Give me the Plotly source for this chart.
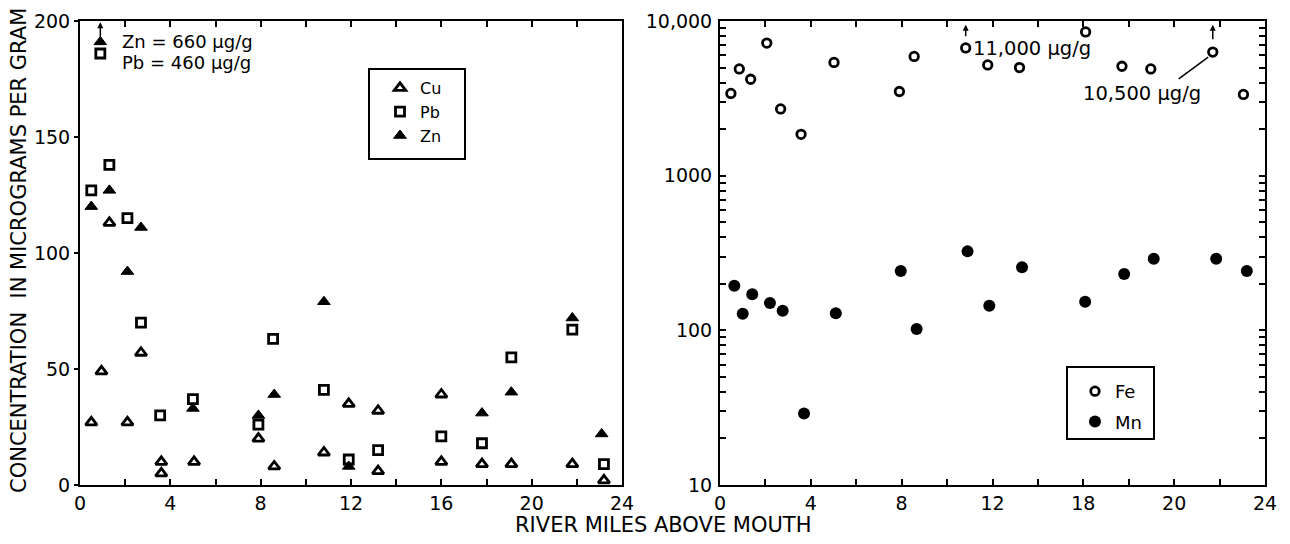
import plotly.graph_objects as go

# ---------------- Left panel: Cu, Pb, Zn (micrograms per gram) ----------------
cu_miles = [0.5, 0.95, 1.3, 2.1, 2.7, 3.6, 3.6, 5.05, 7.9, 8.6, 10.8, 11.9, 13.2, 13.2, 16.0, 16.0, 17.8, 19.1, 21.8, 23.2]
cu_conc = [27, 49, 113, 27, 57, 10, 5, 10, 20, 8, 14, 35, 32, 6, 39, 10, 9, 9, 9, 2]

# the points at 0.9 mile are off-scale (Zn = 660, Pb = 460); plotted at the top with an arrow
pb_miles = [0.5, 0.9, 1.3, 2.1, 2.7, 3.55, 5.0, 7.9, 8.55, 10.8, 11.9, 13.2, 16.0, 17.8, 19.1, 21.8, 23.2]
pb_conc = [127, 186, 138, 115, 70, 30, 37, 26, 63, 41, 11, 15, 21, 18, 55, 67, 9]

zn_miles = [0.5, 0.9, 1.3, 2.1, 2.7, 5.0, 7.9, 8.6, 10.8, 11.9, 17.8, 19.1, 21.8, 23.1]
zn_conc = [120, 191, 127, 92, 111, 33, 30, 39, 79, 8, 31, 40, 72, 22]

# ---------------- Right panel: Fe, Mn (log scale) ----------------
# Fe at 10.8 and 21.7 miles are off-scale (11,000 and 10,500), plotted below the top with arrows
fe_miles = [0.48, 0.85, 1.35, 2.06, 2.67, 3.57, 5.02, 7.9, 8.55, 10.82, 11.79, 13.19, 16.1, 17.7, 18.97, 21.7, 23.05]
fe_conc = [3400, 4900, 4200, 7200, 2700, 1850, 5400, 3500, 5900, 6700, 5200, 5000, 8500, 5100, 4900, 6300, 3350]

mn_miles = [0.63, 1.0, 1.42, 2.2, 2.76, 3.7, 5.1, 7.96, 8.66, 10.9, 11.86, 13.3, 16.08, 17.8, 19.1, 21.85, 23.2]
mn_conc = [194, 128, 171, 150, 134, 29, 129, 242, 102, 324, 144, 256, 153, 231, 290, 290, 242]

# ---------------- Tick labels ----------------
x_tickvals = [0, 2, 4, 6, 8, 10, 12, 14, 16, 18, 20, 22, 24]
left_x_ticktext = ["0", "", "4", "", "8", "", "12", "", "16", "", "20", "", "24"]
right_x_ticktext = ["0", "", "4", "", "8", "", "12", "", "18", "", "20", "", "24"]
left_y_tickvals = [0, 50, 100, 150, 200]
left_y_ticktext = ["0", "50", "100", "150", "200"]
right_y_tickvals = [10, 20, 30, 40, 50, 60, 70, 80, 90,
                    100, 200, 300, 400, 500, 600, 700, 800, 900,
                    1000, 2000, 3000, 4000, 5000, 6000, 7000, 8000, 9000, 10000]
right_y_ticktext = ["10", "", "", "", "", "", "", "", "",
                    "100", "", "", "", "", "", "", "", "",
                    "1000", "", "", "", "", "", "", "", "", "10,000"]

FONT = "DejaVu Sans"
W, H = 1290, 544


def px_x(p):
    return p / W


def px_y(p):
    return 1 - p / H


fig = go.Figure()

fig.add_trace(go.Scatter(
    x=cu_miles, y=cu_conc, mode="markers", name="Cu", xaxis="x", yaxis="y", legend="legend",
    marker=dict(symbol="triangle-up-open", size=10, color="black", line=dict(width=2.8, color="black"))))
fig.add_trace(go.Scatter(
    x=pb_miles, y=pb_conc, mode="markers", name="Pb", xaxis="x", yaxis="y", legend="legend",
    marker=dict(symbol="square-open", size=9, color="black", line=dict(width=2.8, color="black"))))
fig.add_trace(go.Scatter(
    x=zn_miles, y=zn_conc, mode="markers", name="Zn", xaxis="x", yaxis="y", legend="legend",
    marker=dict(symbol="triangle-up", size=11, color="black", line=dict(width=1, color="black"))))

fig.add_trace(go.Scatter(
    x=fe_miles, y=fe_conc, mode="markers", name="Fe", xaxis="x2", yaxis="y2", legend="legend2",
    legendgroup="fe",
    marker=dict(symbol="circle-open", size=8.5, color="black", line=dict(width=2.8, color="black"))))
fig.add_trace(go.Scatter(
    x=mn_miles, y=mn_conc, mode="markers", name="Mn", xaxis="x2", yaxis="y2", legend="legend2",
    legendgroup="mn",
    marker=dict(symbol="circle", size=12, color="black")))

ydom = [px_y(485), px_y(21)]
axis_common = dict(showline=True, linewidth=2, linecolor="black", showgrid=False, zeroline=False,
                   automargin=False,
                   tickcolor="black", tickwidth=2, tickfont=dict(family=FONT, size=19, color="black"))

fig.update_layout(
    width=W, height=H,
    margin=dict(l=0, r=0, t=0, b=0, autoexpand=False),
    paper_bgcolor="white", plot_bgcolor="white",
    font=dict(family=FONT, color="black"),
    xaxis=dict(domain=[px_x(80), px_x(622)], range=[0, 24], anchor="y",
               tickmode="array", tickvals=x_tickvals, ticktext=left_x_ticktext,
               ticks="inside", ticklen=6, mirror="allticks", ticklabelstandoff=0, **axis_common),
    yaxis=dict(domain=ydom, range=[0, 200], anchor="x",
               tickmode="array", tickvals=left_y_tickvals, ticktext=left_y_ticktext,
               ticks="outside", ticklen=4, mirror=True, ticklabelstandoff=0, **axis_common),
    yaxis3=dict(overlaying="y", side="right", anchor="x", range=[0, 200], automargin=False,
                tickmode="array", tickvals=[50, 100, 150], ticks="inside", ticklen=6,
                tickwidth=2, tickcolor="black", showticklabels=False, showline=False,
                showgrid=False, zeroline=False),
    xaxis2=dict(domain=[px_x(720), px_x(1265)], range=[0, 24], anchor="y2",
                tickmode="array", tickvals=x_tickvals, ticktext=right_x_ticktext,
                ticks="inside", ticklen=6, mirror="allticks", ticklabelstandoff=0, **axis_common),
    yaxis2=dict(domain=ydom, type="log", range=[1, 4], anchor="x2",
                tickmode="array", tickvals=right_y_tickvals, ticktext=right_y_ticktext,
                ticks="inside", ticklen=6, mirror="allticks", ticklabelstandoff=2, **axis_common),
    legend=dict(x=px_x(380), y=px_y(71), xanchor="left", yanchor="top",
                bgcolor="rgba(0,0,0,0)", borderwidth=0,
                font=dict(family=FONT, size=16, color="black"), itemwidth=30),
    legend2=dict(x=px_x(1075), y=px_y(373), xanchor="left", yanchor="top",
                 bgcolor="rgba(0,0,0,0)", borderwidth=0, tracegroupgap=4,
                 font=dict(family=FONT, size=18, color="black"), itemwidth=30),
    showlegend=True,
    shapes=[
        dict(type="rect", xref="paper", yref="paper", x0=px_x(369), x1=px_x(465),
             y0=px_y(159), y1=px_y(69), line=dict(color="black", width=2)),
        dict(type="rect", xref="paper", yref="paper", x0=px_x(1067), x1=px_x(1154),
             y0=px_y(439), y1=px_y(367), line=dict(color="black", width=2)),
    ],
)

ann_font = dict(family=FONT, size=18, color="black")
ann_font_r = dict(family=FONT, size=19.5, color="black")
annotations = [
    # off-scale arrows
    dict(x=0.9, y=199.5, xref="x", yref="y", ax=0, ay=16, text="", showarrow=True,
         arrowhead=2, arrowsize=0.8, arrowwidth=1.5, arrowcolor="black"),
    dict(x=1.75, y=191, xref="x", yref="y", text="Zn = 660 \u03bcg/g", showarrow=False,
         xanchor="left", yanchor="middle", font=ann_font),
    dict(x=1.75, y=182.3, xref="x", yref="y", text="Pb = 460 \u03bcg/g", showarrow=False,
         xanchor="left", yanchor="middle", font=ann_font),
    dict(x=10.82, y=3.975, xref="x2", yref="y2", ax=0, ay=13, text="", showarrow=True,
         arrowhead=2, arrowsize=0.8, arrowwidth=1.5, arrowcolor="black"),
    dict(x=21.7, y=3.975, xref="x2", yref="y2", ax=0, ay=16, text="", showarrow=True,
         arrowhead=2, arrowsize=0.8, arrowwidth=1.5, arrowcolor="black"),
    dict(x=11.05, y=3.825, xref="x2", yref="y2", text="11,000 \u03bcg/g", showarrow=False,
         xanchor="left", yanchor="middle", font=ann_font_r),
    dict(x=15.9, y=3.528, xref="x2", yref="y2", text="10,500 \u03bcg/g", showarrow=False,
         xanchor="left", yanchor="middle", font=ann_font_r),
    dict(x=21.5, y=3.767, xref="x2", yref="y2", ax=-31, ay=23, text="", showarrow=True,
         arrowhead=0, arrowwidth=1.5, arrowcolor="black"),
    # axis titles
    dict(x=px_x(19), y=px_y(251), xref="paper", yref="paper", textangle=-90,
         text="CONCENTRATION\u00a0 IN MICROGRAMS PER GRAM", showarrow=False,
         xanchor="center", yanchor="middle", font=dict(family=FONT, size=21, color="black")),
    dict(x=px_x(663), y=px_y(525), xref="paper", yref="paper",
         text="RIVER MILES ABOVE MOUTH", showarrow=False,
         xanchor="center", yanchor="middle", font=dict(family=FONT, size=21, color="black")),
]
fig.update_layout(annotations=annotations)

fig.write_html("out.html")
